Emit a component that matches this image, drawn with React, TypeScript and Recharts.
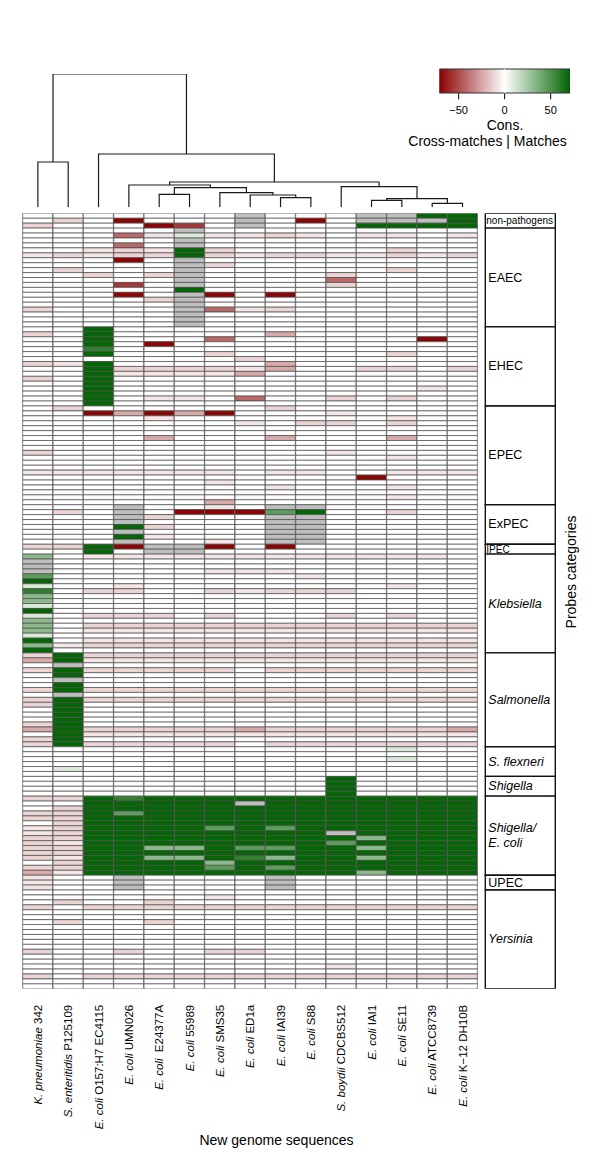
import React from 'react';
import {
  BarChart,
  Bar,
  Cell,
  XAxis,
  YAxis,
  LineChart,
  Line,
  ReferenceLine,
} from 'recharts';

const FONT = '"Liberation Sans", Arial, Helvetica, sans-serif';

// columns, in dendrogram leaf order
const strains = [
  { id: 'kp342', italic: 'K. pneumoniae', rest: ' 342' },
  { id: 'se', italic: 'S. enteritidis', rest: ' P125109' },
  { id: 'o157', italic: 'E. coli', rest: ' O157:H7 EC4115' },
  { id: 'umn026', italic: 'E. coli', rest: ' UMN026' },
  { id: 'e24377a', italic: 'E. coli', rest: '  E24377A' },
  { id: '55989', italic: 'E. coli', rest: ' 55989' },
  { id: 'sms35', italic: 'E. coli', rest: ' SMS35' },
  { id: 'ed1a', italic: 'E. coli', rest: ' ED1a' },
  { id: 'iai39', italic: 'E. coli', rest: ' IAI39' },
  { id: 's88', italic: 'E. coli', rest: ' S88' },
  { id: 'sb', italic: 'S. boydii', rest: ' CDCBS512' },
  { id: 'iai1', italic: 'E. coli', rest: ' IAI1' },
  { id: 'se11', italic: 'E. coli', rest: ' SE11' },
  { id: 'atcc', italic: 'E. coli', rest: ' ATCC8739' },
  { id: 'k12', italic: 'E. coli', rest: ' K\u221212 DH10B' },
];

// cell codes -> consensus value (null = not available, drawn grey)
const levels: Record<string, number | null> = {
  '.': 0, '1': -7, '2': -12, '3': -24, '4': -42, '5': -55, '6': -70,
  a: 10, b: 32, c: 45, d: 58, G: 70, x: null,
};

// one string per probe row, one character per column
const nonPathogens = [
  '.......x...xxGG',
  '.2.6...x.6.xxxG',
  '2...65.x...GGGG',
];

const eaec = [
  '.....x.........',
  '...41a1121.11.1',
  '.....x.........',
  '...4.x.........',
  '..121G2.....2..',
  '12122G212211212',
  '...6.x.........',
  '.....x2........',
  '.2...x......2..',
  '..2.2x....2....',
  '.....x....4....',
  '...5.x....2....',
  '.....G.........',
  '...6.x6.6......',
  '....2x.........',
  '.....x.........',
  '2....x412......',
  '.....x.........',
  '.....x.........',
  '.....x.........',
];

const ehec = [
  '..G............',
  '2.G.....3......',
  '..G...4......6.',
  '..G.6..........',
  '..d............',
  '..G...2.....2..',
  '.......2.......',
  '21G.....3......',
  '..G222213..22.2',
  '..G11113.......',
  '2.G............',
  '..G............',
  '..G..........1.',
  '..G............',
  '..G.11.4..2.2..',
  '..G............',
];

const epec = [
  '.2......2......',
  '..63636...1....',
  '....1.......1..',
  '.......1.22.2..',
  '...............',
  '...............',
  '....3...3...3..',
  '...............',
  '...............',
  '2.........1....',
  '............1..',
  '...............',
  '...............',
  '1111111.11..111',
  '...........6...',
  '......1........',
  '........1...1..',
  '...............',
  '............1..',
  '......3........',
];

const expec = [
  '...x..1.xx.....',
  '.2.x.666cG..2..',
  '...x2...xx.....',
  '...x....xx.....',
  '...G2...xx.....',
  '...x....xx.....',
  '...G1...xx.....',
  '...x..1.xx.....',
];

const ipec = [
  '22G6xx6.6......',
  '..G.xx.........',
];

const klebsiella = [
  'b.111111111111.',
  'x..............',
  'x..............',
  'x.....111......',
  'c........1.....',
  'G..............',
  'a..1........1..',
  'd.22..21222....',
  'b..............',
  'b..............',
  'a..............',
  'G..............',
  'a.222.2...2.2..',
  'b..............',
  'b.2222222222222',
  'b.1111111111111',
  'a..............',
  'G.1111111111111',
  'b12222222222222',
  'G..............',
];

const salmonella = [
  '2G2222222222222',
  '3G1111111111111',
  '.x.............',
  '2G22222.2222222',
  '.G.............',
  '.x.............',
  '.G.............',
  '2G2222222222222',
  '.x.............',
  '2G2222222222222',
  '2G.............',
  '.G.............',
  '.G.............',
  '.G.............',
  '2G.............',
  '3G2222232222223',
  '.G1111111111111',
  '2G.............',
  '2G22222.2222222',
];

const sFlexneri = [
  '............a..',
  '...............',
  '............a..',
  '...............',
  '.a.............',
  '...............',
];

const shigella = [
  '..........G....',
  '..........G....',
  '..........G....',
  '..........G....',
];

const shigellaEcoli = [
  '22GdGGGGGGGGGGG',
  '..GGGGGxGGGGGGG',
  '.2GGGGGGGGGGGGG',
  '22GcGGGGGGGGGGG',
  '22GGGGGGGGGGGGG',
  '.2GGGGGGGGGGGGG',
  '12GGGGcGcGGGGGG',
  '12GGGGGGGGxGGGG',
  '22GGGGGGGGGbGGG',
  '21GGGGGGGGcGGGG',
  '22GGbbGccGGbGGG',
  '22GGGGGGGGGGGGG',
  '21GGbbGdbGGbGGG',
  '.2GGGGbGGGGGGGG',
  '22GGGGcGcGGGGGG',
  '31GGGGGGGGGbGGG',
];

const upec = [
  '1..x....x......',
  '1..x....x......',
  '1..x....x......',
];

const yersinia = [
  '...............',
  '......1........',
  '.2..2..........',
  '2.2222222222222',
  '...............',
  '...............',
  '.2..2..........',
  '...............',
  '...............',
  '...............',
  '...............',
  '...............',
  '2..2..22.......',
  '...............',
  '...............',
  '..........1....',
  '...............',
  '2.2222222222222',
  '...............',
  '...............',
];

const categories = [
  { key: 'np', label: ['non-pathogens'], italic: false, small: true, rows: nonPathogens },
  { key: 'eaec', label: ['EAEC'], italic: false, small: false, rows: eaec },
  { key: 'ehec', label: ['EHEC'], italic: false, small: false, rows: ehec },
  { key: 'epec', label: ['EPEC'], italic: false, small: false, rows: epec },
  { key: 'expec', label: ['ExPEC'], italic: false, small: false, rows: expec },
  { key: 'ipec', label: ['IPEC'], italic: false, small: true, rows: ipec },
  { key: 'kleb', label: ['Klebsiella'], italic: true, small: false, rows: klebsiella },
  { key: 'salm', label: ['Salmonella'], italic: true, small: false, rows: salmonella },
  { key: 'sflex', label: ['S. flexneri'], italic: true, small: false, rows: sFlexneri },
  { key: 'shig', label: ['Shigella'], italic: true, small: false, rows: shigella },
  { key: 'shec', label: ['Shigella/', 'E. coli'], italic: true, small: false, rows: shigellaEcoli },
  { key: 'upec', label: ['UPEC'], italic: false, small: false, rows: upec },
  { key: 'yers', label: ['Yersinia'], italic: true, small: false, rows: yersinia },
];

// dendrogram, R style merge table: negative = leaf (column), positive = earlier merge
const merges: [number, number, number][] = [
  [-14, -15, 4],
  [-12, -13, 7],
  [2, 1, 8.6],
  [-9, -10, 9.6],
  [-8, 4, 12.3],
  [-5, -6, 13],
  [-7, 5, 14.6],
  [6, 7, 19.6],
  [-11, 3, 20.6],
  [-4, 8, 22.3],
  [10, 9, 25.3],
  [-1, -2, 45.3],
  [-3, 11, 53.3],
  [12, 13, 133.3],
];

const legendTicks = [-50, 0, 50];
const legendRange: [number, number] = [-71, 71];

const allRows = categories.flatMap((c) => c.rows.map((r) => r.padEnd(15, '.').slice(0, 15)));
const nRows = allRows.length;

function consColor(v: number | null | undefined) {
  if (v === null || v === undefined) return '#bebebe';
  const t = Math.min(Math.abs(v) / 71, 1);
  const target = v < 0 ? [139, 0, 0] : [0, 100, 0];
  const mix = (c: number) => Math.round(255 + (c - 255) * t);
  return `rgb(${mix(target[0])},${mix(target[1])},${mix(target[2])})`;
}

const heatData = strains.map((s) => {
  const d: any = { name: s.id };
  allRows.forEach((_, i) => {
    d[`r${i}`] = 1;
  });
  return d;
});

const catData = [
  categories.reduce((acc: any, c) => {
    acc[c.key] = c.rows.length;
    return acc;
  }, { name: 'cats' }),
];

const dendroLinks = (() => {
  const nodes: { x: number; h: number }[] = [];
  const at = (ref: number) => (ref < 0 ? { x: -ref - 0.5, h: 0 } : nodes[ref - 1]);
  return merges.map(([a, b, h]) => {
    const l = at(a);
    const r = at(b);
    nodes.push({ x: (l.x + r.x) / 2, h });
    return [
      { x: l.x, y: l.h },
      { x: l.x, y: h },
      { x: r.x, y: h },
      { x: r.x, y: r.h },
    ];
  });
})();

const legendData = [{ name: 'key', span: legendRange }];

function StrainTick(props: any) {
  const { x, y, payload } = props;
  const s = strains.find((d) => d.id === payload.value);
  if (!s) return null;
  return (
    <text
      x={x}
      y={y}
      transform={`rotate(-90, ${x}, ${y})`}
      textAnchor="end"
      dominantBaseline="central"
      fontSize={11.5}
      fontFamily={FONT}
      fill="#000"
      style={{ whiteSpace: 'pre' }}
    >
      <tspan fontStyle="italic">{s.italic}</tspan>
      <tspan>{s.rest}</tspan>
    </text>
  );
}

const categoryLabel = (cat: (typeof categories)[number]) => (props: any) => {
  const { x, y, height } = props;
  const size = cat.small ? 10 : 12.5;
  const cy = y + height / 2;
  return (
    <g>
      {cat.label.map((line, k) => (
        <text
          key={k}
          x={x + (cat.small ? 1 : 3)}
          y={cy + (k - (cat.label.length - 1) / 2) * 15}
          dominantBaseline="central"
          fontSize={size}
          fontStyle={cat.italic ? 'italic' : 'normal'}
          fontFamily={FONT}
          fill="#000"
        >
          {line}
        </text>
      ))}
    </g>
  );
};

const abs: React.CSSProperties = { position: 'absolute', left: 0, top: 0 };

export default function App() {
  return (
    <div style={{ position: 'absolute', left: 0, top: 0, width: 600, height: 1163, background: '#fff', fontFamily: FONT }}>
      {/* gradient used by the colour key */}
      <svg width={0} height={0} style={{ position: 'absolute' }}>
        <defs>
          <linearGradient id="consGrad" x1="0" y1="0" x2="1" y2="0">
            <stop offset="0%" stopColor={consColor(legendRange[0])} />
            <stop offset="50%" stopColor={consColor(0)} />
            <stop offset="100%" stopColor={consColor(legendRange[1])} />
          </linearGradient>
        </defs>
      </svg>

      {/* heatmap */}
      <div style={abs}>
        <BarChart
          width={600}
          height={1163}
          data={heatData}
          margin={{ top: 213.3, right: 122.3, bottom: 44, left: 22.7 }}
          barCategoryGap={0}
          barGap={0}
        >
          <XAxis
            dataKey="name"
            type="category"
            interval={0}
            height={130.2}
            axisLine={false}
            tickLine={false}
            tickSize={6}
            tickMargin={10}
            tick={StrainTick}
          />
          <YAxis type="number" domain={[0, nRows]} reversed hide allowDataOverflow />
          {allRows.map((code, i) => (
            <Bar key={i} dataKey={`r${i}`} stackId="h" isAnimationActive={false}>
              {strains.map((s, j) => (
                <Cell key={s.id} fill={consColor(levels[code[j]])} stroke="#4a4a4a" strokeWidth={0.7} />
              ))}
            </Bar>
          ))}
        </BarChart>
      </div>

      {/* probe category boxes */}
      <div style={abs}>
        <BarChart
          width={600}
          height={1163}
          data={catData}
          margin={{ top: 213.3, right: 45, bottom: 174.2, left: 485.3 }}
          barCategoryGap={0}
          barGap={0}
        >
          <XAxis dataKey="name" type="category" hide />
          <YAxis type="number" domain={[0, nRows]} reversed hide allowDataOverflow />
          {categories.map((c) => (
            <Bar
              key={c.key}
              dataKey={c.key}
              stackId="c"
              fill="#fff"
              stroke="#111"
              strokeWidth={1.4}
              isAnimationActive={false}
              label={categoryLabel(c)}
            />
          ))}
        </BarChart>
      </div>

      {/* column dendrogram */}
      <div style={abs}>
        <LineChart width={600} height={220} margin={{ top: 74, right: 122.3, bottom: 12.7, left: 22.7 }}>
          <XAxis type="number" dataKey="x" domain={[0, strains.length]} hide allowDataOverflow />
          <YAxis type="number" domain={[0, 133.3]} hide allowDataOverflow />
          {dendroLinks.map((pts, k) => (
            <Line
              key={k}
              data={pts}
              dataKey="y"
              type="linear"
              stroke="#1a1a1a"
              strokeWidth={1.2}
              dot={false}
              activeDot={false}
              isAnimationActive={false}
            />
          ))}
        </LineChart>
      </div>

      {/* colour key */}
      <div style={abs}>
        <BarChart
          layout="vertical"
          width={600}
          height={160}
          data={legendData}
          margin={{ top: 69, right: 30, bottom: 36.7, left: 439.3 }}
          barCategoryGap={0}
        >
          <XAxis
            type="number"
            domain={legendRange}
            ticks={legendTicks}
            height={30}
            stroke="#000"
            axisLine={false}
            tickLine
            tickSize={6}
            tickMargin={7}
            tick={{ fontSize: 11, fill: '#000', fontFamily: FONT }}
            tickFormatter={(v: number) => (v < 0 ? `\u2212${-v}` : `${v}`)}
            allowDataOverflow
          />
          <YAxis type="category" dataKey="name" hide />
          <Bar dataKey="span" fill="url(#consGrad)" stroke="#333" strokeWidth={1} isAnimationActive={false} />
          <ReferenceLine x={0} stroke="#fff" strokeWidth={1.2} />
        </BarChart>
      </div>

      {/* titles */}
      <svg width={600} height={1163} style={{ ...abs, pointerEvents: 'none' }}>
        <text x={505} y={125} textAnchor="middle" dominantBaseline="central" fontSize={14} fontFamily={FONT}>
          Cons.
        </text>
        <text x={487.5} y={140.5} textAnchor="middle" dominantBaseline="central" fontSize={14} fontFamily={FONT}>
          Cross-matches | Matches
        </text>
        <text x={276.5} y={1140} textAnchor="middle" dominantBaseline="central" fontSize={14} fontFamily={FONT}>
          New genome sequences
        </text>
        <text
          x={571}
          y={572}
          transform="rotate(-90, 571, 572)"
          textAnchor="middle"
          dominantBaseline="central"
          fontSize={14}
          fontFamily={FONT}
        >
          Probes categories
        </text>
      </svg>
    </div>
  );
}
